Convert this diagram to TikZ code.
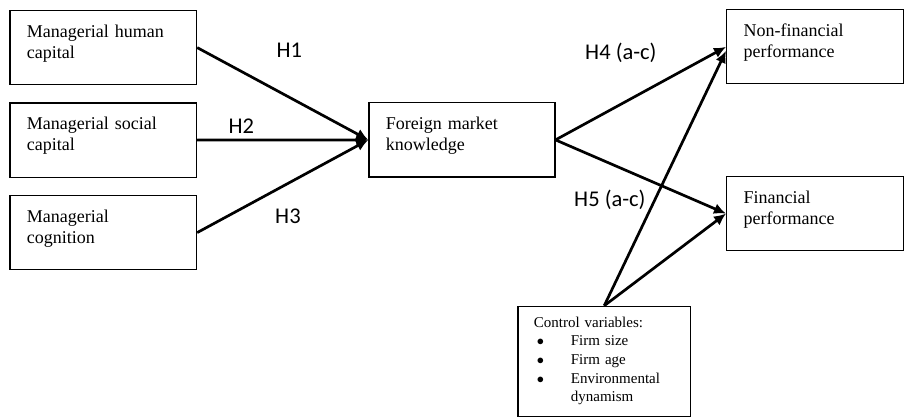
\documentclass[tikz,border=0pt]{standalone}
\usepackage{fontspec}
\setmainfont{Liberation Serif}
\newfontfamily\calib{Carlito}
\usetikzlibrary{arrows.meta}

\tikzset{
  varbox/.style={draw, line width=1.2pt, anchor=north west, align=left,
    inner xsep=17pt, inner ysep=0pt, text width=#1,
    font=\fontsize{18pt}{21pt}\selectfont,
    text height=26.7pt, text depth=47.3pt},
  ctrlbox/.style={draw, line width=1.2pt, anchor=north west, align=left,
    inner xsep=16pt, inner ysep=0pt, text width=140.7pt,
    font=\fontsize{15pt}{18.6pt}\selectfont,
    text height=21pt, text depth=88.8pt},
  hyp/.style={anchor=base west, font=\calib\fontsize{22.5pt}{27pt}\selectfont},
  link/.style={line width=2.7pt, -{Latex[length=12pt,width=11pt]}}
}

\newcommand{\bul}{\hspace*{3pt}\makebox[34pt][l]{$\bullet$}}

\begin{document}
\begin{tikzpicture}[x=1pt,y=-1pt]
  \useasboundingbox (0,0) rectangle (904,417);

  % antecedents
  \node[varbox=152.7pt] (hum) at (9.3,10) {Managerial human\\capital};
  \node[varbox=152.7pt] (soc) at (9.3,102.5) {Managerial social\\capital};
  \node[varbox=152.7pt] (cog) at (9.3,195) {Managerial\\cognition};

  % mediator and outcomes
  \node[varbox=152pt] (fmk) at (368.3,102.3) {Foreign market\\knowledge};
  \node[varbox=143pt] (nonfin) at (726,9.3) {Non-financial\\performance};
  \node[varbox=143pt] (fin) at (726,176) {Financial\\performance};

  % controls
  \node[ctrlbox] (ctrl) at (517.3,305.7) {Control variables:\\
    \bul Firm size\\
    \bul Firm age\\
    \bul Environmental\\
    \hspace*{37pt}dynamism};

  \foreach \src in {hum,soc,cog}
    \draw[link] (\src.east) -- (fmk.west);
  \draw[link] (fmk.east) -- (nonfin.west);
  \draw[link] (fmk.east) -- (fin.west);
  \draw[link] (ctrl.north) -- ([yshift=-4pt]nonfin.west);
  \draw[link] (ctrl.north) -- (fin.west);

  % hypotheses
  \node[hyp] (h1) at (273,57.7) {H1};
  \node[hyp] (h2) at (225,133.3) {H2};
  \node[hyp] (h3) at (271.7,223) {H3};
  \node[hyp] (h4) at (581.7,60) {H4 (a-c)};
  \node[hyp] (h5) at (570.7,206) {H5 (a-c)};
\end{tikzpicture}
\end{document}
